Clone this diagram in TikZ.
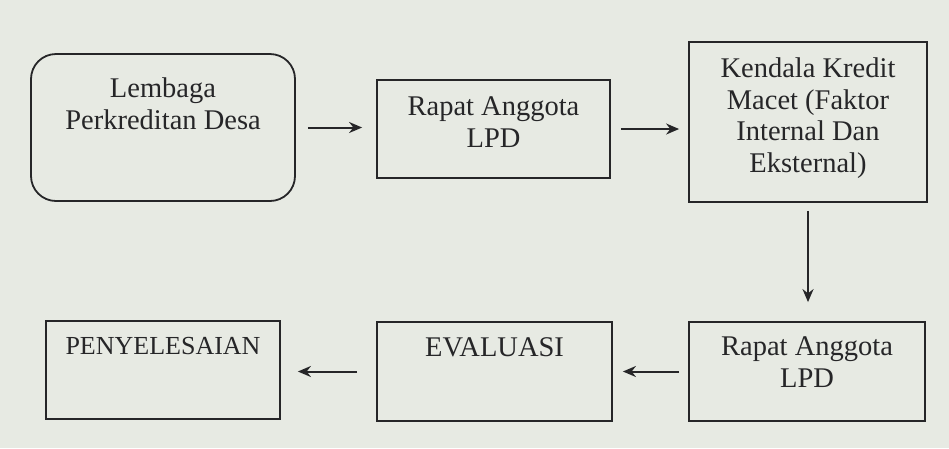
\documentclass[tikz,border=0pt]{standalone}
\usepackage{fontspec}
\setmainfont{Liberation Serif}
\usetikzlibrary{arrows.meta}
\definecolor{bgc}{RGB}{231,234,227}
\definecolor{inkc}{RGB}{38,38,40}
\begin{document}
\begin{tikzpicture}[x=1pt,y=-1pt,
  box/.style={draw=inkc, line width=1.8pt, inner sep=0pt},
  txt/.style={anchor=north, inner sep=0pt, align=center, text=inkc,
    font=\fontsize{28.5}{31.5}\selectfont},
  arr/.style={draw=inkc, line width=2pt, -{Stealth[length=13pt,width=11pt]}}]
\fill[bgc] (0,0) rectangle (949,448);
\useasboundingbox (0,0) rectangle (949,448);
% boxes
\node[box, rounded corners=25pt, minimum width=264pt, minimum height=147pt] (b1) at (163,127.5) {};
\node[box, minimum width=233pt, minimum height=98pt] (b2) at (493.5,129) {};
\node[box, minimum width=238pt, minimum height=160pt] (b3) at (808,122) {};
\node[box, minimum width=236pt, minimum height=99pt] (b6) at (807,371.5) {};
\node[box, minimum width=235pt, minimum height=99pt] (b5) at (494.5,371.5) {};
\node[box, minimum width=234pt, minimum height=98pt] (b4) at (163,370) {};
% texts
\node[txt] (t1) at ([yshift=-24.5pt]b1.north) {Lembaga\\Perkreditan Desa};
\node[txt] (t2) at ([yshift=-17.5pt]b2.north) {Rapat Anggota\\LPD};
\node[txt] (t3) at ([yshift=-16.5pt]b3.north) {Kendala Kredit\\Macet (Faktor\\Internal Dan\\Eksternal)};
\node[txt] (t6) at ([yshift=-15.5pt]b6.north) {Rapat Anggota\\LPD};
\node[txt] (t5) at ([yshift=-16pt]b5.north) {EVALUASI};
\node[txt, font=\fontsize{26}{30}\selectfont] (t4) at ([yshift=-17pt]b4.north) {PENYELESAIAN};
% connectors
\draw[arr, shorten <=12pt, shorten >=14pt] (b1.east) -- (b1.east -| b2.west);
\draw[arr, shorten <=10pt, shorten >=9pt] (b2.east) -- (b2.east -| b3.west);
\draw[arr, shorten <=8pt, shorten >=19pt] (b3.south) -- (b3.south |- b6.north);
\draw[arr, shorten <=9pt, shorten >=10pt] (b6.west) -- (b6.west -| b5.east);
\draw[arr, shorten <=19pt, shorten >=17pt] (b5.west) -- (b5.west -| b4.east);
\end{tikzpicture}
\end{document}
